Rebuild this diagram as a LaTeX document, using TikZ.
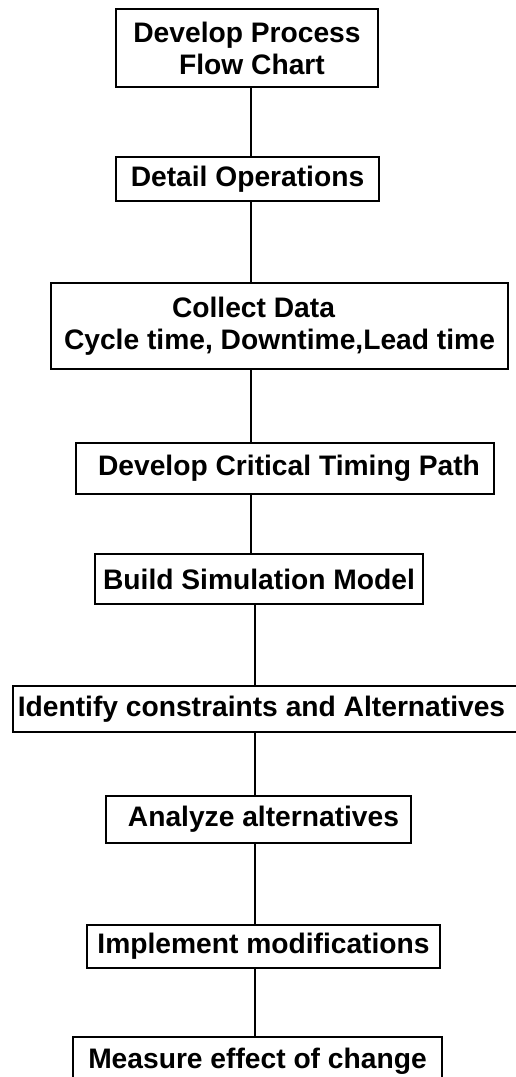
\documentclass[tikz,border=0pt]{standalone}
\usepackage{fontspec}
\setmainfont{Liberation Sans}
\usetikzlibrary{positioning}

\begin{document}
\begin{tikzpicture}[
  x=1pt, y=-1pt,
  every node/.style={font=\fontsize{28.2}{32}\selectfont\bfseries},
  stage/.style={draw, line width=2.5pt, inner sep=0pt, align=center},
  link/.style={line width=2.8pt},
]
  \useasboundingbox (0,0) rectangle (516,1077);
  \coordinate (spineA) at (251,0);
  \coordinate (spineB) at (255,0);
  \node[stage, minimum width=262pt, minimum height=78pt] (flow)    at (247,48)    {Develop Process\\ \hspace*{10pt}Flow Chart};
  \node[stage, minimum width=263pt, minimum height=44pt] (ops)     at (247.5,179) {Detail Operations};
  \node[stage, minimum width=457pt, minimum height=86pt] (data)    at (279.5,326) {Collect Data\hspace*{52pt}\\Cycle time, Downtime,Lead time};
  \node[stage, minimum width=418pt, minimum height=51pt] (timing)  at (285,468.5) {\hspace*{8pt}Develop Critical Timing Path};
  \node[stage, minimum width=328pt, minimum height=50pt] (sim)     at (259,579)   {Build Simulation Model};
  \node[stage, minimum width=507pt, minimum height=46pt] (limits)  at (266.5,709) {Identify constraints and Alternatives\hspace*{10pt}};
  \node[stage, minimum width=305pt, minimum height=47pt] (analyze) at (258.5,819.5) {\hspace*{10pt}Analyze alternatives};
  \node[stage, minimum width=353pt, minimum height=43pt] (modify)  at (263.5,946.5) {Implement modifications};
  \node[stage, minimum width=369pt, minimum height=48pt] (measure) at (257.5,1061) {Measure effect of change};
  \foreach \a/\b in {flow/ops,ops/data,data/timing,timing/sim}
    \draw[link] (\a.south -| spineA) -- (\b.north -| spineA);
  \foreach \a/\b in {sim/limits,limits/analyze,analyze/modify,modify/measure}
    \draw[link] (\a.south -| spineB) -- (\b.north -| spineB);
\end{tikzpicture}
\end{document}
